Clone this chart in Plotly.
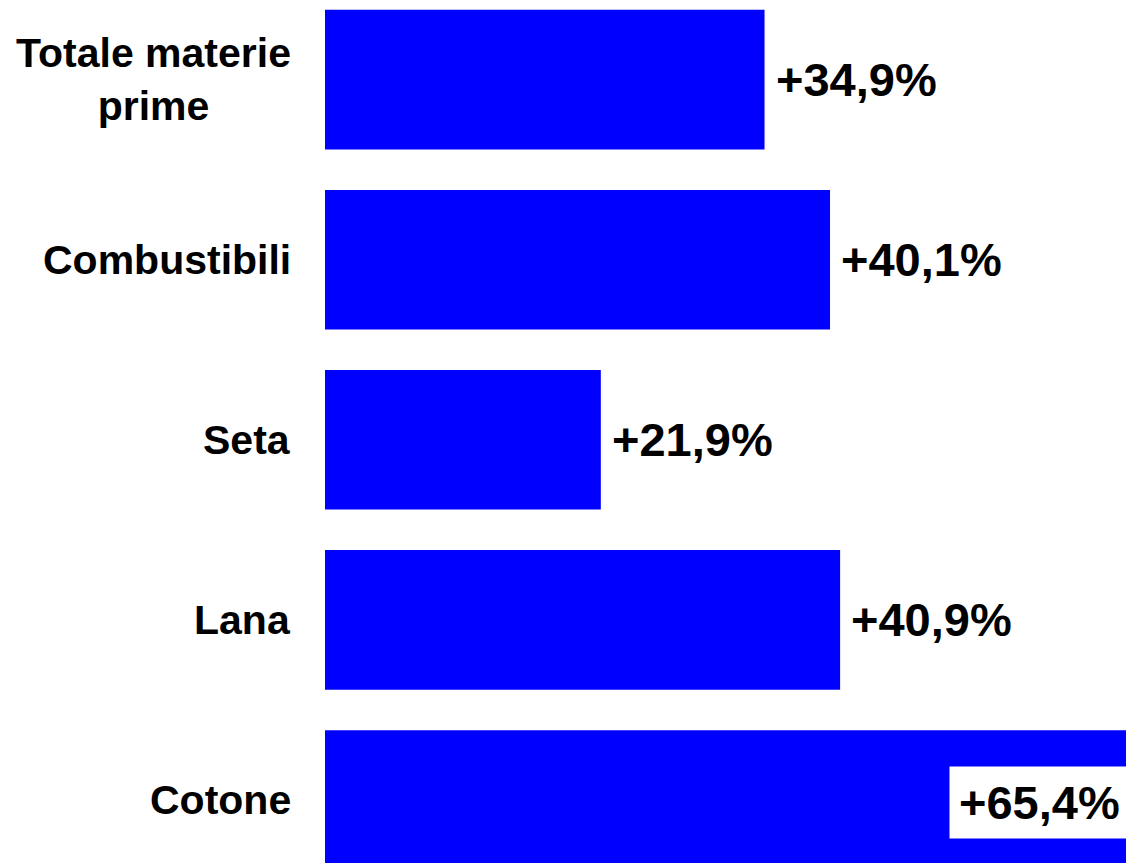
import plotly.graph_objects as go

categories = ["Cotone", "Lana", "Seta", "Combustibili", "Totale materie prime"]
category_labels = ["Cotone", "Lana", "Seta", "Combustibili", "Totale materie<br>prime"]
values = [65.4, 40.9, 21.9, 40.1, 34.9]
value_labels = ["+65,4%", "+40,9%", "+21,9%", "+40,1%", "+34,9%"]

FONT = "Arial, Liberation Sans, Helvetica, sans-serif"
X_MAX = 63.6

fig = go.Figure(
    go.Bar(
        x=values,
        y=categories,
        orientation="h",
        marker=dict(color="#0000FF", line=dict(width=0)),
        hoverinfo="skip",
    )
)

# category names on the left of the bars
for cat, lab in zip(categories, category_labels):
    fig.add_annotation(
        x=0, xref="paper", y=cat, yref="y",
        text=lab, showarrow=False,
        xanchor="right", yanchor="middle", align="center",
        xshift=-32,
        font=dict(family=FONT, size=41, color="black", weight="bold"),
    )

# value labels: outside the bar, or boxed inside when the bar runs off the plot
for cat, val, lab in zip(categories, values, value_labels):
    if val > X_MAX:
        fig.add_annotation(
            x=1, xref="paper", y=cat, yref="y",
            text=lab, showarrow=False,
            xanchor="right", yanchor="middle",
            xshift=4, yshift=-3,
            bgcolor="white", borderpad=9,
            font=dict(family=FONT, size=47, color="black", weight="bold"),
        )
    else:
        fig.add_annotation(
            x=val, xref="x", y=cat, yref="y",
            text=lab, showarrow=False,
            xanchor="left", yanchor="middle",
            xshift=9,
            font=dict(family=FONT, size=47, color="black", weight="bold"),
        )

fig.update_layout(
    width=1126,
    height=863,
    margin=dict(l=325, r=0, t=0, b=0),
    paper_bgcolor="white",
    plot_bgcolor="white",
    bargap=0.225,
    showlegend=False,
    xaxis=dict(visible=False, range=[0, X_MAX]),
    yaxis=dict(
        visible=False,
        categoryorder="array",
        categoryarray=categories,
        range=[-0.350, 4.442],
    ),
)

fig.write_html(
    "out.html",
    config={"displayModeBar": False},
    post_script="document.body.style.margin = '0';",
)
